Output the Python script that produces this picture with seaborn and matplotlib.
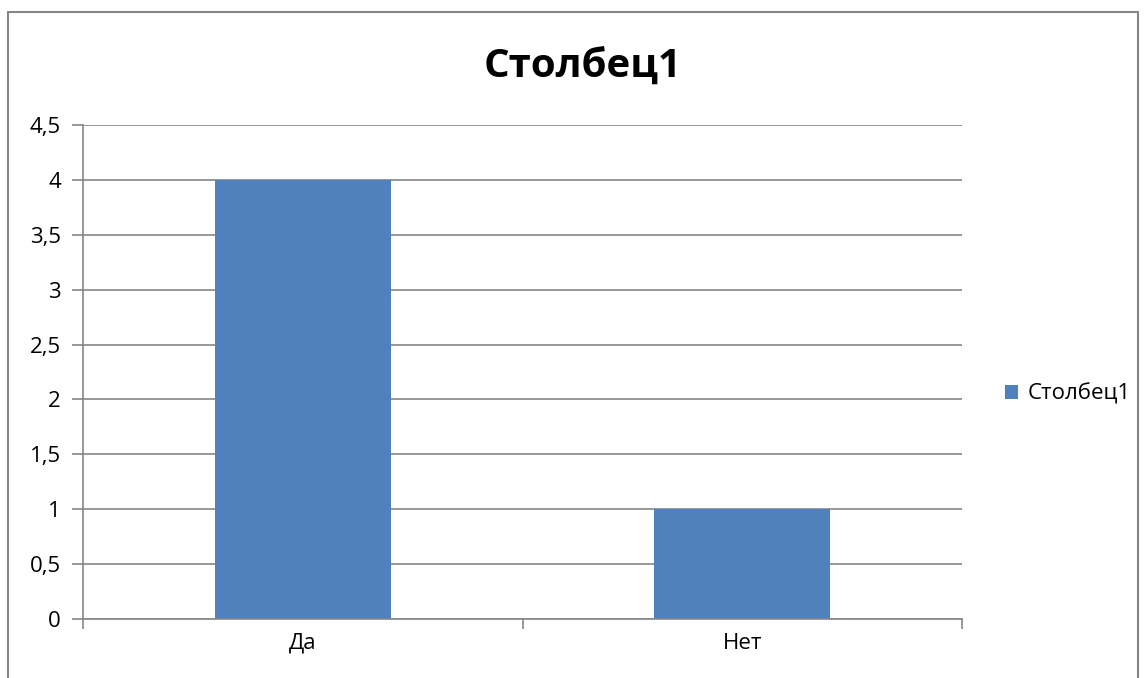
"""
Столбчатая диаграмма: Да / Нет
"""

import matplotlib
matplotlib.use("Agg")
import matplotlib.pyplot as plt
from matplotlib.patches import Rectangle
from matplotlib import ticker
import pandas as pd
import seaborn as sns

categories = ["Да", "Нет"]
values = [4, 1]
series_name = "Столбец1"

sns.set_theme(style="white")
plt.rcParams["font.family"] = ["Open Sans", "DejaVu Sans"]
plt.rcParams["text.color"] = "black"

data = pd.DataFrame({"cat": categories, "val": values, "series": series_name})

fig = plt.figure(figsize=(11.46, 6.78), dpi=100)
ax = fig.add_axes([83/1146, 59/678, (962-83)/1146, (619-125)/678])

sns.barplot(data=data, x="cat", y="val", hue="series", palette=["#4F81BD"],
            width=0.4, dodge=False, ax=ax, saturation=1, linewidth=0)

grid_c = "#868686"
ax.set_ylim(0, 4.5)
ax.set_xlim(-0.5, 1.5)
ax.yaxis.set_major_locator(ticker.MultipleLocator(0.5))
ax.yaxis.set_major_formatter(ticker.FuncFormatter(lambda v, p: ("%g" % v).replace(".", ",")))
ax.yaxis.grid(True, color=grid_c, linewidth=1.2)
ax.set_axisbelow(True)
for s in ["top", "right"]:
    ax.spines[s].set_visible(False)
for s in ["left", "bottom"]:
    ax.spines[s].set_color(grid_c)
    ax.spines[s].set_linewidth(1.2)
ax.set_xticks([-0.5, 0.5, 1.5], minor=False)
ax.set_xticks([0, 1], minor=True)
ax.set_xticklabels(["", "", ""])
ax.set_xticklabels(categories, minor=True)
ax.tick_params(axis="x", which="major", direction="out", length=7, width=1.2, color=grid_c, bottom=True)
ax.tick_params(axis="x", which="minor", length=0, labelsize=16, pad=10, labelcolor="black")
ax.tick_params(axis="y", direction="out", length=8, width=1.2, color=grid_c, left=True,
               labelsize=16, pad=8, labelcolor="black")
ax.set_xlabel("")
ax.set_ylabel("")

fig.text(583/1146, 1 - 78/678, series_name, ha="center", va="baseline",
         fontsize=29, fontweight="bold", color="black")

ax.legend(loc="center left", bbox_to_anchor=(985/1146, 1 - 394/678),
          bbox_transform=fig.transFigure, frameon=False, fontsize=16,
          handlelength=0.6, handleheight=0.6, handletextpad=0.4,
          labelcolor="black")

fig.patches.append(Rectangle((8/1146, -0.1), (1138-8)/1146, 1.1 - 12/678,
                             transform=fig.transFigure, fill=False,
                             edgecolor=grid_c, linewidth=1.5, clip_on=False))

plt.savefig("out.png", dpi=100)
